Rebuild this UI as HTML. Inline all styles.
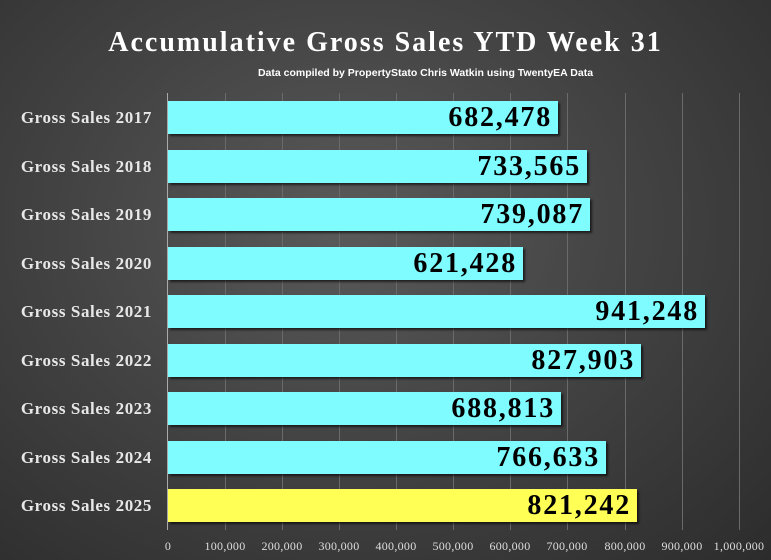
<!DOCTYPE html>
<html><head><meta charset="utf-8"><style>
body{margin:0;width:771px;height:560px;overflow:hidden;background:radial-gradient(ellipse at 45% 40%,#5a5a5a 0%,#444 45%,#2c2c2c 100%);font-family:"Liberation Serif",serif;position:relative}
.t{position:absolute;left:0;width:771px;text-align:center;color:#fff;font-weight:bold}
.g{position:absolute;top:93px;height:437px;width:1px;background:#6a6a6a}
.bar{position:absolute;left:168px;height:33px;background:#7ffcff;box-shadow:2px 2px 2px rgba(0,0,0,.6)}
.v{position:absolute;right:6px;top:0;line-height:34px;font-size:28px;font-weight:bold;color:#000;letter-spacing:1.8px;font-family:"Liberation Serif",serif}
.l{position:absolute;right:619px;color:#e8e8e8;font-size:17px;line-height:20px;white-space:nowrap;font-weight:bold;letter-spacing:0.6px}
.x{position:absolute;top:539px;color:#ddd;font-size:12px;width:80px;text-align:center;letter-spacing:0.3px}
</style></head><body>
<div class="t" style="top:27px;font-size:28px;letter-spacing:2px">Accumulative Gross Sales YTD Week 31</div>
<div class="t" style="top:67px;font-size:10.5px;font-family:'Liberation Sans',sans-serif;padding-left:40px">Data compiled by PropertyStato Chris Watkin using TwentyEA Data</div>
<div class="g" style="left:225px"></div><div class="g" style="left:282px"></div><div class="g" style="left:339px"></div><div class="g" style="left:396px"></div><div class="g" style="left:453px"></div><div class="g" style="left:510px"></div><div class="g" style="left:567px"></div><div class="g" style="left:625px"></div><div class="g" style="left:682px"></div><div class="g" style="left:739px"></div>
<div style="position:absolute;left:167px;top:93px;width:1px;height:437px;background:#aaa"></div>

<div class="l" style="top:108px">Gross Sales 2017</div><div class="bar" style="top:101px;width:390px"><span class="v">682,478</span></div>
<div class="l" style="top:157px">Gross Sales 2018</div><div class="bar" style="top:150px;width:419px"><span class="v">733,565</span></div>
<div class="l" style="top:205px">Gross Sales 2019</div><div class="bar" style="top:198px;width:422px"><span class="v">739,087</span></div>
<div class="l" style="top:254px">Gross Sales 2020</div><div class="bar" style="top:247px;width:355px"><span class="v">621,428</span></div>
<div class="l" style="top:302px">Gross Sales 2021</div><div class="bar" style="top:295px;width:537px"><span class="v">941,248</span></div>
<div class="l" style="top:351px">Gross Sales 2022</div><div class="bar" style="top:344px;width:473px"><span class="v">827,903</span></div>
<div class="l" style="top:399px">Gross Sales 2023</div><div class="bar" style="top:392px;width:393px"><span class="v">688,813</span></div>
<div class="l" style="top:448px">Gross Sales 2024</div><div class="bar" style="top:441px;width:438px"><span class="v">766,633</span></div>
<div class="l" style="top:496px">Gross Sales 2025</div><div class="bar" style="top:489px;width:469px;background:#ffff55"><span class="v">821,242</span></div>

<div class="x" style="left:128px">0</div><div class="x" style="left:185px">100,000</div><div class="x" style="left:242px">200,000</div><div class="x" style="left:299px">300,000</div><div class="x" style="left:356px">400,000</div><div class="x" style="left:413px">500,000</div><div class="x" style="left:470px">600,000</div><div class="x" style="left:527px">700,000</div><div class="x" style="left:585px">800,000</div><div class="x" style="left:642px">900,000</div><div class="x" style="left:699px">1,000,000</div>
</body></html>
